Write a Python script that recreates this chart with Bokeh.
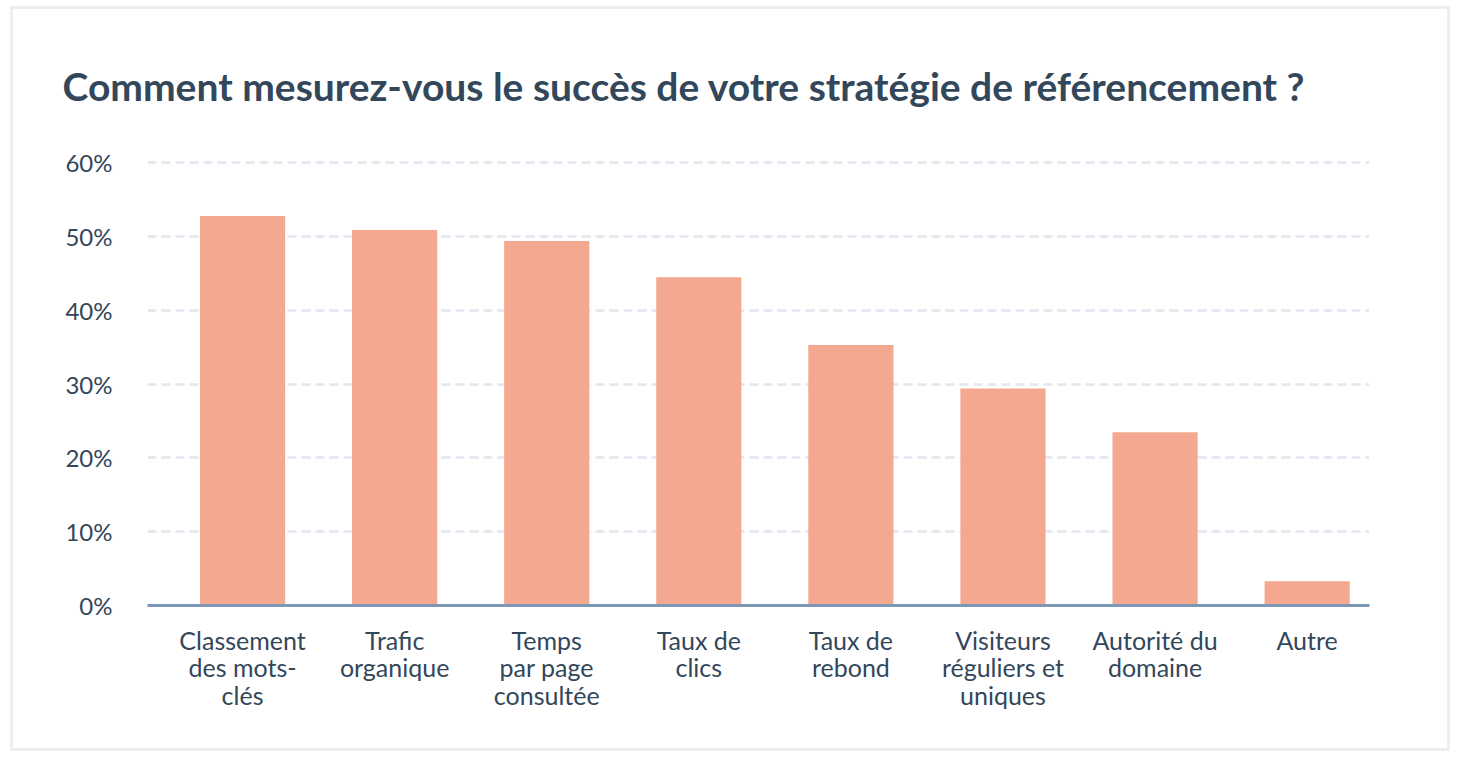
from bokeh.plotting import figure
from bokeh.models import Range1d, FixedTicker, PrintfTickFormatter
from bokeh.embed import file_html
from bokeh.resources import INLINE

title_text = "Comment mesurez-vous le succès de votre stratégie de référencement ?"
categories = [
    "Classement\ndes mots-\nclés",
    "Trafic\norganique",
    "Temps\npar page\nconsultée",
    "Taux de\nclics",
    "Taux de\nrebond",
    "Visiteurs\nréguliers et\nuniques",
    "Autorité du\ndomaine",
    "Autre",
]
values = [52.8, 50.9, 49.4, 44.5, 35.3, 29.4, 23.5, 3.3]
y_ticks = [0, 10, 20, 30, 40, 50, 60]

idx = list(range(len(categories)))

FONT = "Lato"
TEXT = "#33475b"

p = figure(
    frame_width=1222, frame_height=450,
    x_range=Range1d(-0.625, len(categories) - 1 + 0.41),
    y_range=Range1d(0, 61),
    output_backend="svg", toolbar_location=None,
    min_border_left=134, min_border_right=78,
    min_border_top=146, min_border_bottom=143,
    styles={"border": "3px solid #eeeeee", "margin": "6px 0 0 10px"},
)
p.outline_line_color = None
p.background_fill_color = "white"
p.border_fill_color = "white"

p.title.text = title_text
p.title.text_font = FONT
p.title.text_font_size = "39px"
p.title.text_font_style = "bold"
p.title.text_color = TEXT
p.title.align = "left"
p.title.offset = -85
p.title.standoff = 93

p.vbar(x=idx, top=values, width=0.56, color="#f5a890", line_color=None)

p.xaxis.ticker = FixedTicker(ticks=idx)
p.xaxis.major_label_overrides = {i: c for i, c in zip(idx, categories)}
p.xaxis.axis_line_color = "#7c98b6"
p.xaxis.axis_line_width = 3
p.xaxis.major_tick_line_color = None
p.xaxis.major_tick_out = 0
p.xaxis.minor_tick_line_color = None
p.xaxis.major_label_text_font = FONT
p.xaxis.major_label_text_font_size = "25px"
p.xaxis.major_label_text_color = TEXT
p.xaxis.major_label_standoff = 19
p.xaxis.major_label_text_line_height = 0.92

p.yaxis.ticker = FixedTicker(ticks=y_ticks)
p.yaxis.formatter = PrintfTickFormatter(format="%d%%")
p.yaxis.axis_line_color = None
p.yaxis.major_tick_line_color = None
p.yaxis.major_tick_out = 0
p.yaxis.minor_tick_line_color = None
p.yaxis.major_label_text_font = FONT
p.yaxis.major_label_text_font_size = "24px"
p.yaxis.major_label_text_color = TEXT
p.yaxis.major_label_standoff = 35

p.xgrid.grid_line_color = None
p.ygrid.grid_line_color = "#e1e6ef"
p.ygrid.grid_line_width = 2.5
p.ygrid.grid_line_dash = "9 5"

open("out.html", "w").write(file_html(p, INLINE))
